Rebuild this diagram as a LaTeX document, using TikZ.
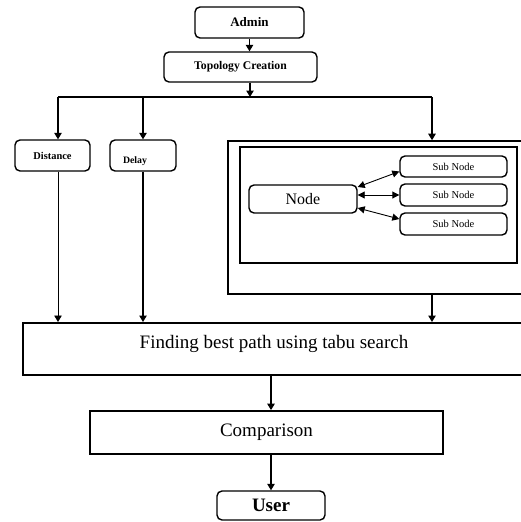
\documentclass[tikz,border=0pt]{standalone}
\usepackage{fontspec}
\setmainfont{Liberation Serif}
\usetikzlibrary{arrows.meta}

\begin{document}
\begin{tikzpicture}[
    x=1pt, y=-1pt,
    rbox/.style={draw, rounded corners=5pt, line width=1.4pt, inner sep=0pt},
    sqbox/.style={draw, line width=1.8pt, inner sep=0pt},
    flow/.style={line width=1.1pt, -{Triangle[width=7.5pt,length=6.5pt]}},
    link/.style={line width=0.9pt, {Triangle[width=7pt,length=7pt]}-{Triangle[width=7pt,length=7pt]}},
    every node/.style={font=\small}
  ]
  \useasboundingbox (0,0) rectangle (521,522);
  \clip (0,0) rectangle (521,522);

  % --- Top ---
  \node[rbox, minimum width=109, minimum height=31,
        font=\fontsize{13}{15}\selectfont\bfseries] (admin) at (249.5,22.5) {Admin};
  \node[rbox, minimum width=153, minimum height=30,
        font=\fontsize{11.7}{14}\selectfont\bfseries] (topo) at (240.5,67) {Topology Creation};

  \draw[flow] (admin.south) -- (admin.south |- topo.north);

  % split line below topology creation
  \coordinate (split) at (250,97);
  \coordinate (left) at (58,97);
  \coordinate (mid) at (143,97);
  \coordinate (right) at (432,97);
  \draw[flow] (split |- topo.south) -- (split);
  \draw[line width=1.3pt] (left) -- (right);

  % --- Parameters ---
  \node[rbox, minimum width=75, minimum height=31,
        font=\fontsize{10.4}{12}\selectfont\bfseries] (dist) at (52.5,155.5) {Distance};
  \node[rbox, minimum width=66, minimum height=31] (delay) at (143,155.5) {};
  \node[font=\fontsize{9.8}{12}\selectfont\bfseries] (delaytxt) at (135,161) {Delay};

  \draw[flow] (left) -- (left |- dist.north);
  \draw[flow] (mid) -- (delay.north);

  % --- Network ---
  \node[draw, line width=1.6pt, minimum width=297, minimum height=153] (outer) at (376.5,217.5) {};
  \node[draw, line width=1.6pt, minimum width=277, minimum height=116] (inner) at (378.5,205) {};
  \draw[flow] (right) -- (right |- outer.north);

  \node[rbox, minimum width=108, minimum height=28,
        font=\fontsize{16}{18}\selectfont] (node) at (303,199) {Node};
  \node[rbox, minimum width=107, minimum height=21,
        font=\fontsize{10.5}{12}\selectfont] (sub1) at (453.5,166.5) {Sub Node};
  \node[rbox, minimum width=107, minimum height=22,
        font=\fontsize{10.5}{12}\selectfont] (sub2) at (453.5,195) {Sub Node};
  \node[rbox, minimum width=107, minimum height=22,
        font=\fontsize{10.5}{12}\selectfont] (sub3) at (453.5,224) {Sub Node};

  \draw[link] ([yshift=12pt]node.east) -- ([yshift=-5pt]sub1.west);
  \draw[link] (node.east |- sub2.west) -- (sub2.west);
  \draw[link] ([yshift=-9pt]node.east) -- ([yshift=5pt]sub3.west);

  % --- Path search ---
  \node[sqbox, line width=2pt, minimum width=502, minimum height=52,
        text height=13pt, text depth=15pt,
        font=\fontsize{19}{22}\selectfont] (finding) at (274,349) {Finding best path using tabu search};

  \draw[line width=0.9pt, -{Triangle[width=7.5pt,length=6.5pt]}] (left |- dist.south) -- (left |- finding.north);
  \draw[flow] (delay.south) -- (delay.south |- finding.north);
  \draw[flow] (right |- outer.south) -- (right |- finding.north);

  % --- Bottom ---
  \node[sqbox, minimum width=353, minimum height=43,
        font=\fontsize{19}{22}\selectfont] (comp) at (266.5,432.5) {Comparison};
  \node[rbox, minimum width=108, minimum height=29,
        font=\fontsize{19}{22}\selectfont\bfseries] (user) at (271,505.5) {User};

  \draw[flow] (user.north |- finding.south) -- (user.north |- comp.north);
  \draw[flow] (user.north |- comp.south) -- (user.north);
\end{tikzpicture}
\end{document}
